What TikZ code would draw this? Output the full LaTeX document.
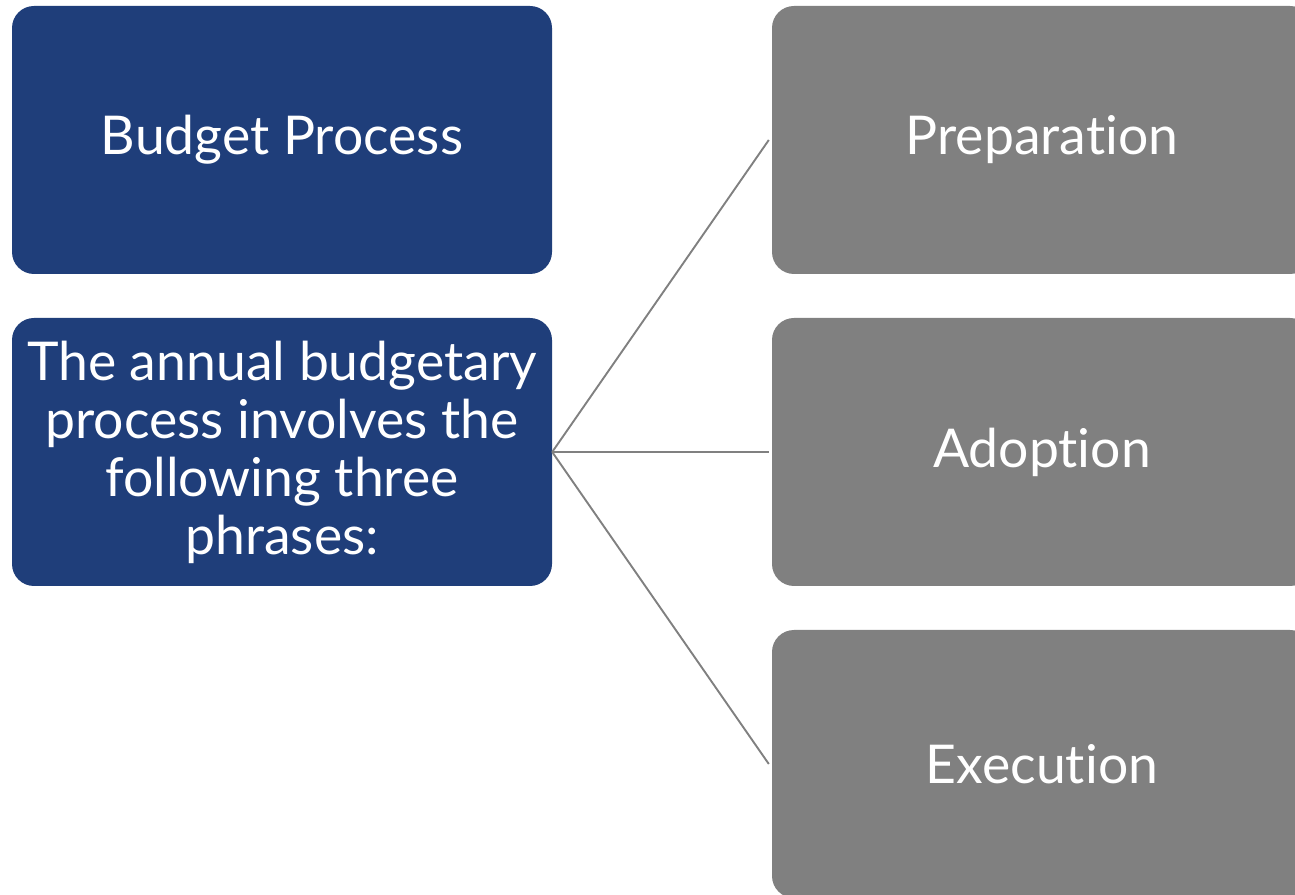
\documentclass[tikz,border=0pt]{standalone}
\usepackage{fontspec}
\setmainfont{Lato}[Ligatures=NoCommon]
\definecolor{boxblue}{RGB}{31,62,122}
\definecolor{boxgray}{RGB}{128,128,128}
\begin{document}
\begin{tikzpicture}[x=1pt,y=1pt,
  card/.style={rounded corners=22pt, minimum width=540pt, minimum height=268pt,
    inner sep=0pt, text=white, align=center,
    font=\fontsize{53.5}{58}\selectfont},
  bluecard/.style={card, fill=boxblue},
  graycard/.style={card, fill=boxgray},
  link/.style={draw=boxgray, line width=1.9pt}]
\useasboundingbox (0,0) rectangle (1295,894);
\clip (0,0) rectangle (1295,894);
\node[bluecard] (title) at (282,754) {Budget Process};
\node[bluecard] (desc) at (282,442) {The annual budgetary\\process involves the\\following three\\phrases:};
\node[graycard] (prep) at (1042,754) {Preparation};
\node[graycard] (adop) at (1042,442) {Adoption};
\node[graycard] (exec) at (1042,130) {Execution};
\draw[link] (desc.east) -- ([xshift=-3pt]prep.west);
\draw[link] (desc.east) -- ([xshift=-3pt]adop.west);
\draw[link] (desc.east) -- ([xshift=-3pt]exec.west);
\end{tikzpicture}
\end{document}
